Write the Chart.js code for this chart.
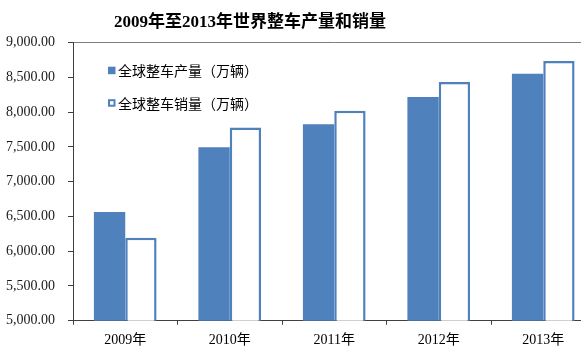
<!DOCTYPE html>
<html>
<head>
<meta charset="utf-8">
<script src="https://cdn.jsdelivr.net/npm/chart.js@4"></script>
<style>
  html, body { margin: 0; padding: 0; background: #fff; overflow: hidden; }
  #wrap { width: 581px; height: 356px; overflow: hidden; position: relative; }
  canvas { display: block; }
</style>
</head>
<body>
<div id="wrap"><canvas id="c" width="597" height="356" style="width:597px;height:356px"></canvas></div>
<script>
const titleText = '2009年至2013年世界整车产量和销量';
const years = ['2009年', '2010年', '2011年', '2012年', '2013年'];
const productionLabel = '全球整车产量（万辆）';
const salesLabel = '全球整车销量（万辆）';
const production = [6565, 7495, 7825, 8220, 8555];
const sales = [6195, 7780, 8020, 8435, 8735];
const yTicks = [5000, 5500, 6000, 6500, 7000, 7500, 8000, 8500, 9000];

const BLUE = '#4F81BD';

const titlePlugin = {
  id: 'customTitle',
  afterDraw(chart) {
    const ctx = chart.ctx;
    ctx.save();
    ctx.font = 'bold 17px "Liberation Serif", "Noto Sans CJK SC", serif';
    ctx.fillStyle = '#000';
    ctx.textAlign = 'center';
    ctx.textBaseline = 'middle';
    ctx.fillText(titleText, 250, 23);
    ctx.restore();
  }
};

const legendPlugin = {
  id: 'insideLegend',
  afterDraw(chart) {
    const ctx = chart.ctx;
    const a = chart.chartArea;
    const x0 = a.left + 35;
    const rows = [
      { y: a.top + 28, label: chart.data.datasets[0].label, filled: true },
      { y: a.top + 60.5, label: chart.data.datasets[1].label, filled: false }
    ];
    ctx.save();
    ctx.font = '14px "Noto Sans CJK SC", sans-serif';
    ctx.textBaseline = 'middle';
    ctx.textAlign = 'left';
    rows.forEach(r => {
      if (r.filled) {
        ctx.fillStyle = BLUE;
        ctx.fillRect(x0, r.y - 4, 7.5, 7.5);
      } else {
        ctx.fillStyle = '#fff';
        ctx.fillRect(x0, r.y - 4, 7.5, 7.5);
        ctx.strokeStyle = BLUE;
        ctx.lineWidth = 2;
        ctx.strokeRect(x0 + 1, r.y - 3, 5.5, 5.5);
      }
      ctx.fillStyle = '#000';
      ctx.fillText(r.label, x0 + 10, r.y);
    });
    ctx.restore();
  }
};

new Chart(document.getElementById('c'), {
  type: 'bar',
  data: {
    labels: years,
    datasets: [
      {
        label: productionLabel,
        data: production,
        backgroundColor: BLUE,
        borderWidth: 0,
        categoryPercentage: 0.6,
        barPercentage: 1.0
      },
      {
        label: salesLabel,
        data: sales,
        backgroundColor: '#ffffff',
        borderColor: BLUE,
        borderWidth: 2.5,
        categoryPercentage: 0.6,
        barPercentage: 1.0
      }
    ]
  },
  options: {
    responsive: false,
    animation: false,
    devicePixelRatio: 1,
    layout: { padding: { top: 42.7, right: 1.5, left: 0, bottom: 0 } },
    plugins: {
      legend: { display: false },
      title: { display: false },
      tooltip: { enabled: false }
    },
    scales: {
      x: {
        grid: {
          offset: true,
          drawOnChartArea: false,
          tickLength: 4,
          tickColor: '#404040'
        },
        border: { color: '#404040', width: 1 },
        ticks: {
          color: '#000',
          padding: 7,
          font: { family: '"Liberation Serif", "Noto Sans CJK SC", serif', size: 14 },
          maxRotation: 0
        },
        afterFit(scale) { scale.height = 35.3; }
      },
      y: {
        min: 5000,
        max: 9000,
        afterBuildTicks(scale) { scale.ticks = yTicks.map(v => ({ value: v })); },
        grid: {
          drawOnChartArea: true,
          color: ctx => (ctx.tick && ctx.tick.value === 9000) ? '#7f7f7f' : 'rgba(0,0,0,0)',
          tickColor: '#404040',
          tickLength: 5
        },
        border: { color: '#404040', width: 1 },
        ticks: {
          color: '#1a1a1a',
          padding: 13,
          font: { family: '"Liberation Serif", serif', size: 14 },
          callback: v => Number(v).toLocaleString('en-US', { minimumFractionDigits: 2, maximumFractionDigits: 2 })
        },
        afterFit(scale) { scale.width = 73; }
      }
    }
  },
  plugins: [titlePlugin, legendPlugin]
});
</script>
</body>
</html>
